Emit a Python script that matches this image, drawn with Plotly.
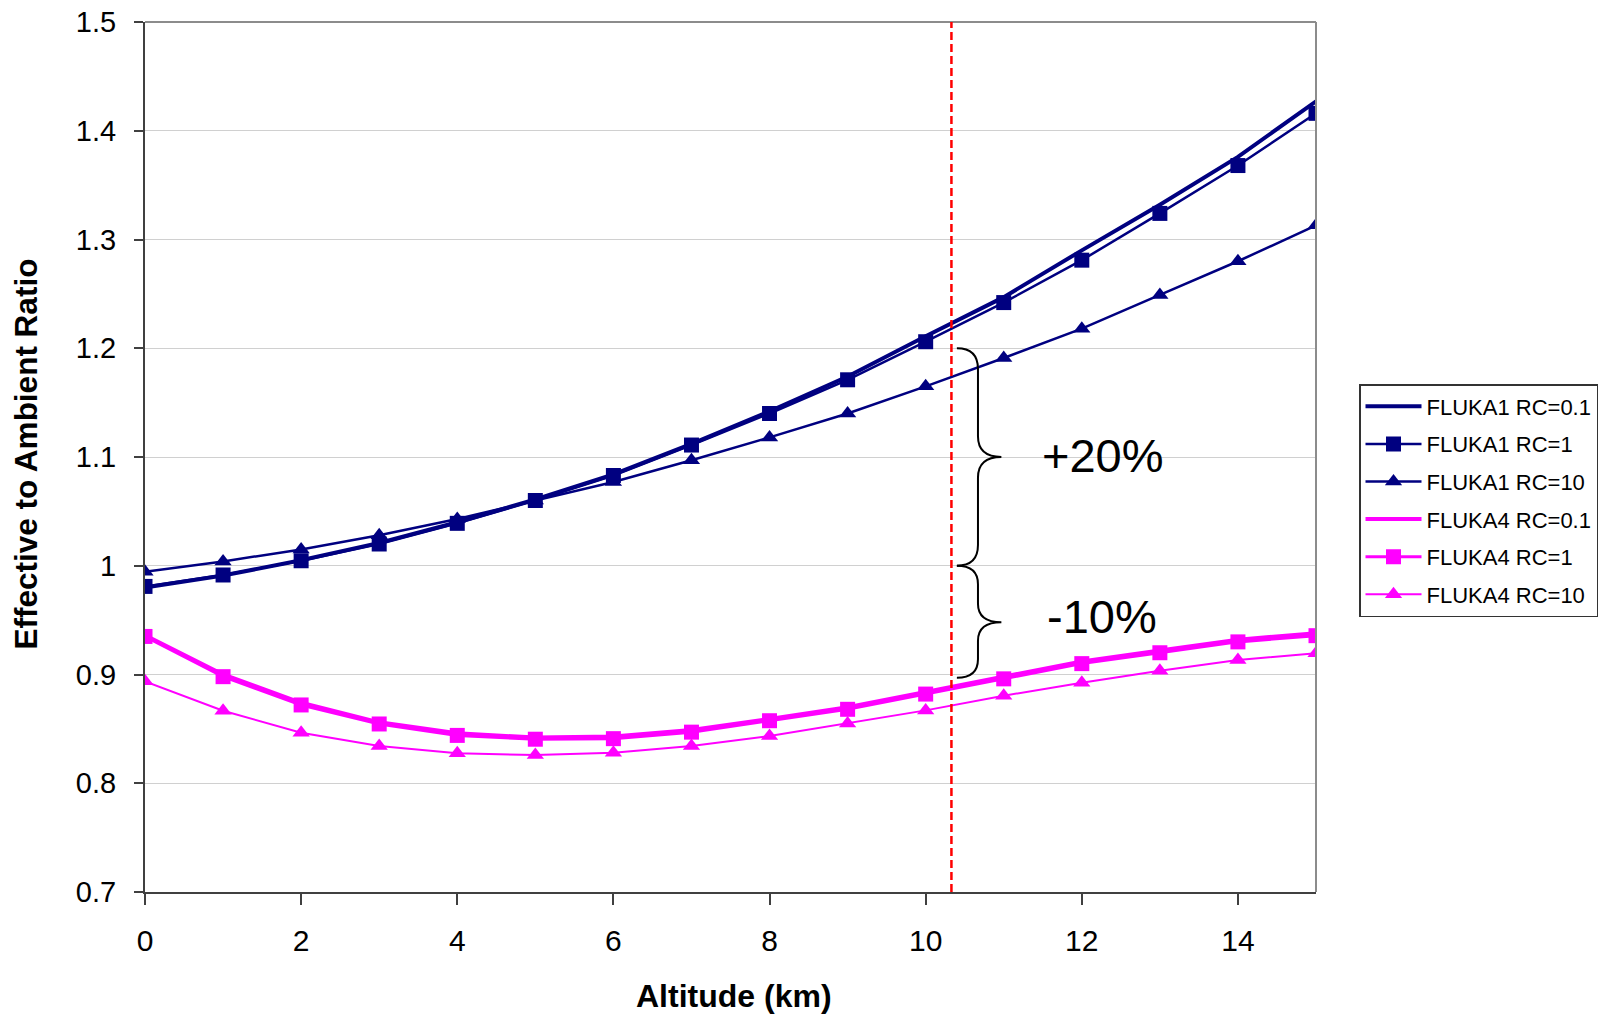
import plotly.graph_objects as go

altitude_km = list(range(16))

fluka1_rc01 = [0.980, 0.991, 1.005, 1.021, 1.040, 1.061, 1.084, 1.112, 1.142, 1.174, 1.211, 1.247, 1.290, 1.332, 1.376, 1.427]
fluka1_rc1 = [0.981, 0.9915, 1.0046, 1.020, 1.039, 1.060, 1.083, 1.111, 1.140, 1.171, 1.206, 1.242, 1.281, 1.324, 1.368, 1.416]
fluka1_rc10 = [0.9945, 1.004, 1.015, 1.028, 1.043, 1.060, 1.077, 1.097, 1.118, 1.140, 1.165, 1.191, 1.218, 1.249, 1.280, 1.313]

fluka4_rc01 = [0.936, 0.900, 0.874, 0.856, 0.846, 0.842, 0.843, 0.849, 0.859, 0.870, 0.884, 0.898, 0.912, 0.922, 0.932, 0.938]
fluka4_rc1 = [0.935, 0.898, 0.872, 0.8545, 0.844, 0.8405, 0.841, 0.847, 0.8575, 0.868, 0.882, 0.896, 0.910, 0.920, 0.930, 0.9357]
fluka4_rc10 = [0.8937, 0.8667, 0.8465, 0.8343, 0.8275, 0.826, 0.828, 0.8343, 0.8434, 0.855, 0.867, 0.8805, 0.8925, 0.9035, 0.9133, 0.9195]

series_names = ["FLUKA1 RC=0.1", "FLUKA1 RC=1", "FLUKA1 RC=10",
                "FLUKA4 RC=0.1", "FLUKA4 RC=1", "FLUKA4 RC=10"]

y_tick_vals = [0.7, 0.8, 0.9, 1.0, 1.1, 1.2, 1.3, 1.4, 1.5]
y_tick_text = ["0.7", "0.8", "0.9", "1", "1.1", "1.2", "1.3", "1.4", "1.5"]
x_tick_vals = [0, 2, 4, 6, 8, 10, 12, 14]

ref_altitude = 10.33
label_up = "+20%"
label_down = "-10%"

NAVY = "#000080"
MAG = "#FF00FF"
FONT = "Arial, 'Liberation Sans', sans-serif"

fig = go.Figure()

styles = [
    (fluka1_rc01, NAVY, 4, None, 0),
    (fluka1_rc1, NAVY, 2.5, "square", 15),
    (fluka1_rc10, NAVY, 2.5, "triangle-up", 15),
    (fluka4_rc01, MAG, 4, None, 0),
    (fluka4_rc1, MAG, 3, "square", 15),
    (fluka4_rc10, MAG, 2, "triangle-up", 15),
]

for i, (name, (vals, col, lw, sym, ms)) in enumerate(zip(series_names, styles)):
    common = dict(x=altitude_km, y=vals, name=name, legendgroup=f"g{i}",
                  line=dict(color=col, width=lw))
    if sym is None:
        fig.add_trace(go.Scatter(mode="lines", **common))
    else:
        fig.add_trace(go.Scatter(mode="lines+markers",
                                 marker=dict(symbol=sym, size=ms, color=col,
                                             line=dict(width=0)), **common))

shapes = []
# plot frame top & right (gray)
shapes.append(dict(type="line", xref="paper", yref="paper", x0=0, x1=1, y0=1, y1=1,
                   line=dict(color="#8c8c8c", width=2)))
shapes.append(dict(type="line", xref="paper", yref="paper", x0=1, x1=1, y0=0, y1=1,
                   line=dict(color="#8c8c8c", width=2)))
# red dashed reference line
shapes.append(dict(type="line", xref="x", yref="paper", x0=ref_altitude, x1=ref_altitude,
                   y0=0, y1=1, line=dict(color="#FF0000", width=2.5, dash="8px,4px")))
# braces
bx0, bx1, bx2 = 10.40, 10.67, 10.97
def brace(top, tip, bot, r):
    return (f"M {bx0},{top} Q {bx1},{top} {bx1},{top - r} "
            f"L {bx1},{tip + r} Q {bx1},{tip} {bx2},{tip} "
            f"Q {bx1},{tip} {bx1},{tip - r} "
            f"L {bx1},{bot + r} Q {bx1},{bot} {bx0},{bot}")
shapes.append(dict(type="path", xref="x", yref="y", path=brace(1.2, 1.1, 1.0, 0.019),
                   line=dict(color="black", width=2)))
shapes.append(dict(type="path", xref="x", yref="y", path=brace(1.0, 0.948, 0.897, 0.017),
                   line=dict(color="black", width=2)))

annotations = [
    dict(x=12.27, y=1.101, xref="x", yref="y", text=label_up, showarrow=False,
         font=dict(family=FONT, size=47, color="black"), xanchor="center", yanchor="middle"),
    dict(x=12.26, y=0.9536, xref="x", yref="y", text=label_down, showarrow=False,
         font=dict(family=FONT, size=47, color="black"), xanchor="center", yanchor="middle"),
    dict(x=(733.5 - 145) / 1171, y=(892 - 996) / 870, xref="paper", yref="paper",
         text="<b>Altitude (km)</b>", showarrow=False,
         font=dict(family=FONT, size=32, color="black"), xanchor="center", yanchor="middle"),
    dict(x=(25.5 - 145) / 1171, y=(892 - 454) / 870, xref="paper", yref="paper",
         text="<b>Effective to Ambient Ratio</b>", showarrow=False, textangle=-90,
         font=dict(family=FONT, size=31.5, color="black"), xanchor="center", yanchor="middle"),
]

fig.update_layout(
    width=1606, height=1018, autosize=False,
    margin=dict(l=145, r=290, t=22, b=126, pad=0, autoexpand=False),
    paper_bgcolor="white", plot_bgcolor="white",
    font=dict(family=FONT, color="black"),
    shapes=shapes, annotations=annotations,
    showlegend=True,
    legend=dict(x=(1359 - 145) / 1171, y=(892 - 384) / 870, xanchor="left", yanchor="top",
                bgcolor="white", bordercolor="#333333", borderwidth=1.5,
                font=dict(family=FONT, size=22, color="black"),
                itemwidth=56, tracegroupgap=6),
    xaxis=dict(range=[0, 15], tickvals=x_tick_vals, showgrid=False, zeroline=False,
               showline=True, linecolor="#404040", linewidth=2,
               ticks="outside", ticklen=11, tickwidth=1.5, tickcolor="#404040",
               tickfont=dict(family=FONT, size=30, color="black"),
               ticklabelstandoff=10),
    yaxis=dict(range=[0.7, 1.5], tickvals=y_tick_vals, ticktext=y_tick_text,
               showgrid=True, gridcolor="#d0d0d0", gridwidth=1, zeroline=False,
               showline=True, linecolor="#404040", linewidth=2,
               ticks="outside", ticklen=9, tickwidth=1.5, tickcolor="#404040",
               tickfont=dict(family=FONT, size=29, color="black"),
               ticklabelstandoff=12),
)

fig.write_html("out.html", config={"displayModeBar": False},
               post_script="document.body.style.margin='0px';document.body.style.overflow='hidden';")
